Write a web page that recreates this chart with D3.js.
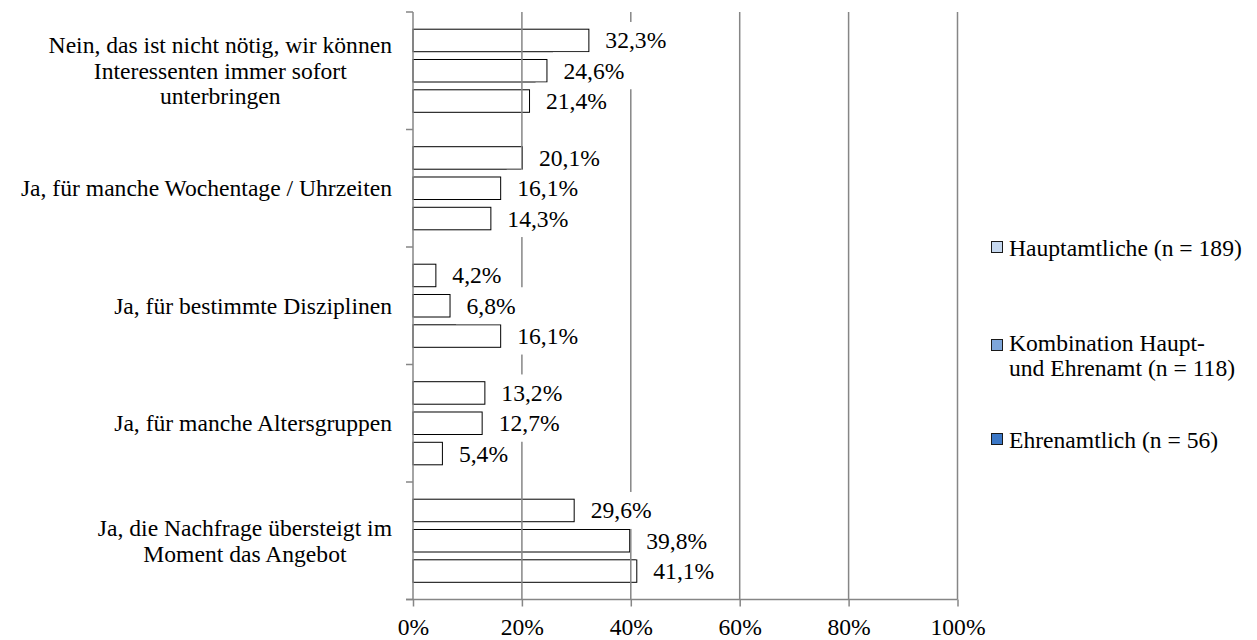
<!DOCTYPE html>
<html>
<head>
<meta charset="utf-8">
<script src="https://cdn.jsdelivr.net/npm/d3@7"></script>
<style>
  html, body { margin: 0; padding: 0; background: #fff; }
  svg { display: block; }
  svg text { font-family: "Liberation Serif", "Times New Roman", Times, "DejaVu Serif", serif !important; fill: #000; }
</style>
</head>
<body>
<svg id="chart" width="1257" height="640"></svg>
<script>
const categories = [
  ["Nein, das ist nicht nötig, wir können", "Interessenten immer sofort", "unterbringen"],
  ["Ja, für manche Wochentage / Uhrzeiten"],
  ["Ja, für bestimmte Disziplinen"],
  ["Ja, für manche Altersgruppen"],
  ["Ja, die Nachfrage übersteigt im", "Moment das Angebot"]
];
const seriesNames = [
  ["Hauptamtliche (n = 189)"],
  ["Kombination Haupt-", "und Ehrenamt (n = 118)"],
  ["Ehrenamtlich (n = 56)"]
];
const seriesColors = ["#c6d8ef", "#7ea6da", "#3b77c6"];
const hauptamtliche = [32.3, 20.1, 4.2, 13.2, 29.6];
const kombination   = [24.6, 16.1, 6.8, 12.7, 39.8];
const ehrenamtlich  = [21.4, 14.3, 16.1, 5.4, 41.1];
const xTicks = [0, 20, 40, 60, 80, 100];

const series = [hauptamtliche, kombination, ehrenamtlich];
const fmt = v => v.toFixed(1).replace(".", ",") + "%";
const FONT = '"Liberation Serif", "Times New Roman", Times, "DejaVu Serif", serif';
const FS = "23.6px";

const svg = d3.select("#chart");
const pLeft = 413, pRight = 957.5, pTop = 12, pBottom = 599.5;
const gridColor = "#868686";

const x = d3.scaleLinear().domain([0, 100]).range([pLeft, pRight]);
const catIdx = d3.range(categories.length);
const y = d3.scaleBand().domain(catIdx).range([pTop, pBottom]).padding(0);
const inner = d3.scaleBand().domain([0, 1, 2])
  .range([17.2, y.bandwidth() - 17.2]).paddingInner(0.257).paddingOuter(0);

// bars
const bars = [];
catIdx.forEach(ci => series.forEach((s, si) => bars.push({ci, si, v: s[ci]})));

svg.append("g").selectAll("rect").data(bars).join("rect")
  .attr("x", x(0))
  .attr("y", d => y(d.ci) + inner(d.si))
  .attr("width", d => x(d.v) - x(0))
  .attr("height", inner.bandwidth())
  .attr("fill", "#fff")
  .attr("stroke", "#000")
  .attr("stroke-width", 1);

// gridlines (drawn above bars)
svg.append("g").selectAll("line").data(xTicks.filter(t => t > 0)).join("line")
  .attr("x1", d => x(d)).attr("x2", d => x(d))
  .attr("y1", pTop).attr("y2", pBottom)
  .attr("stroke", gridColor).attr("stroke-width", 1.5);

// x axis
const xAxis = d3.axisBottom(x).tickValues(xTicks).tickSize(7).tickFormat(d => d + "%");
const gx = svg.append("g").attr("transform", `translate(0,${pBottom})`).call(xAxis)
  .attr("font-family", null).attr("font-size", null);
gx.select(".domain").remove();
gx.append("line").attr("x1", pLeft - 7).attr("x2", pRight).attr("y1", 0).attr("y2", 0)
  .attr("stroke", gridColor).attr("stroke-width", 1.5);
gx.selectAll(".tick line").attr("stroke", gridColor).attr("stroke-width", 1.5);
gx.selectAll(".tick text").attr("y", 35.5).attr("dy", null)
  .style("font-size", FS).style("font-family", FONT).attr("fill", "#000");

// y axis
const gy = svg.append("g");
gy.append("line").attr("x1", pLeft).attr("x2", pLeft).attr("y1", pTop).attr("y2", pBottom)
  .attr("stroke", gridColor).attr("stroke-width", 1.5);
const boundaries = catIdx.map(i => y(i)).concat([pBottom]);
gy.selectAll("line.tk").data(boundaries).join("line").attr("class", "tk")
  .attr("x1", pLeft - 7).attr("x2", pLeft).attr("y1", d => d).attr("y2", d => d)
  .attr("stroke", gridColor).attr("stroke-width", 1.5);

// category labels
const lh = 25.5;
catIdx.forEach(ci => {
  const lines = categories[ci];
  const cy = y(ci) + y.bandwidth() / 2;
  const t = svg.append("text").style("font-size", FS).style("font-family", FONT)
    .attr("text-anchor", "middle");
  lines.forEach((ln, i) => {
    t.append("tspan").attr("x", 0)
      .attr("y", cy + (i - (lines.length - 1) / 2) * lh + 8)
      .text(ln);
  });
  let maxW = 0;
  t.selectAll("tspan").each(function() { maxW = Math.max(maxW, this.getComputedTextLength()); });
  t.selectAll("tspan").attr("x", 392 - maxW / 2);
});

// data labels with white background boxes
const lg = svg.append("g");
bars.forEach(d => {
  const cy = y(d.ci) + inner(d.si) + inner.bandwidth() / 2;
  const bx = x(d.v) + 6;
  const g = lg.append("g");
  const r = g.append("rect").attr("fill", "#fff");
  const t = g.append("text").attr("x", bx + 10.5).attr("y", cy + 8)
    .style("font-size", FS).style("font-family", FONT).text(fmt(d.v));
  const w = t.node().getComputedTextLength();
  r.attr("x", bx).attr("y", cy - 18.5).attr("width", w + 20).attr("height", 37);
});

// legend
const legendPos = [
  {sy: 241, by: [255.5]},
  {sy: 339, by: [350.5, 375.5]},
  {sy: 433, by: [447.5]}
];
const leg = svg.append("g");
seriesNames.forEach((nm, i) => {
  const p = legendPos[i];
  leg.append("rect").attr("x", 991.5).attr("y", p.sy + 0.5).attr("width", 11).attr("height", 11)
    .attr("fill", seriesColors[i]).attr("stroke", "#1a1a1a").attr("stroke-width", 1);
  const t = leg.append("text").style("font-size", FS).style("font-family", FONT);
  nm.forEach((ln, j) => t.append("tspan").attr("x", 1009).attr("y", p.by[j]).text(ln));
});
</script>
</body>
</html>
